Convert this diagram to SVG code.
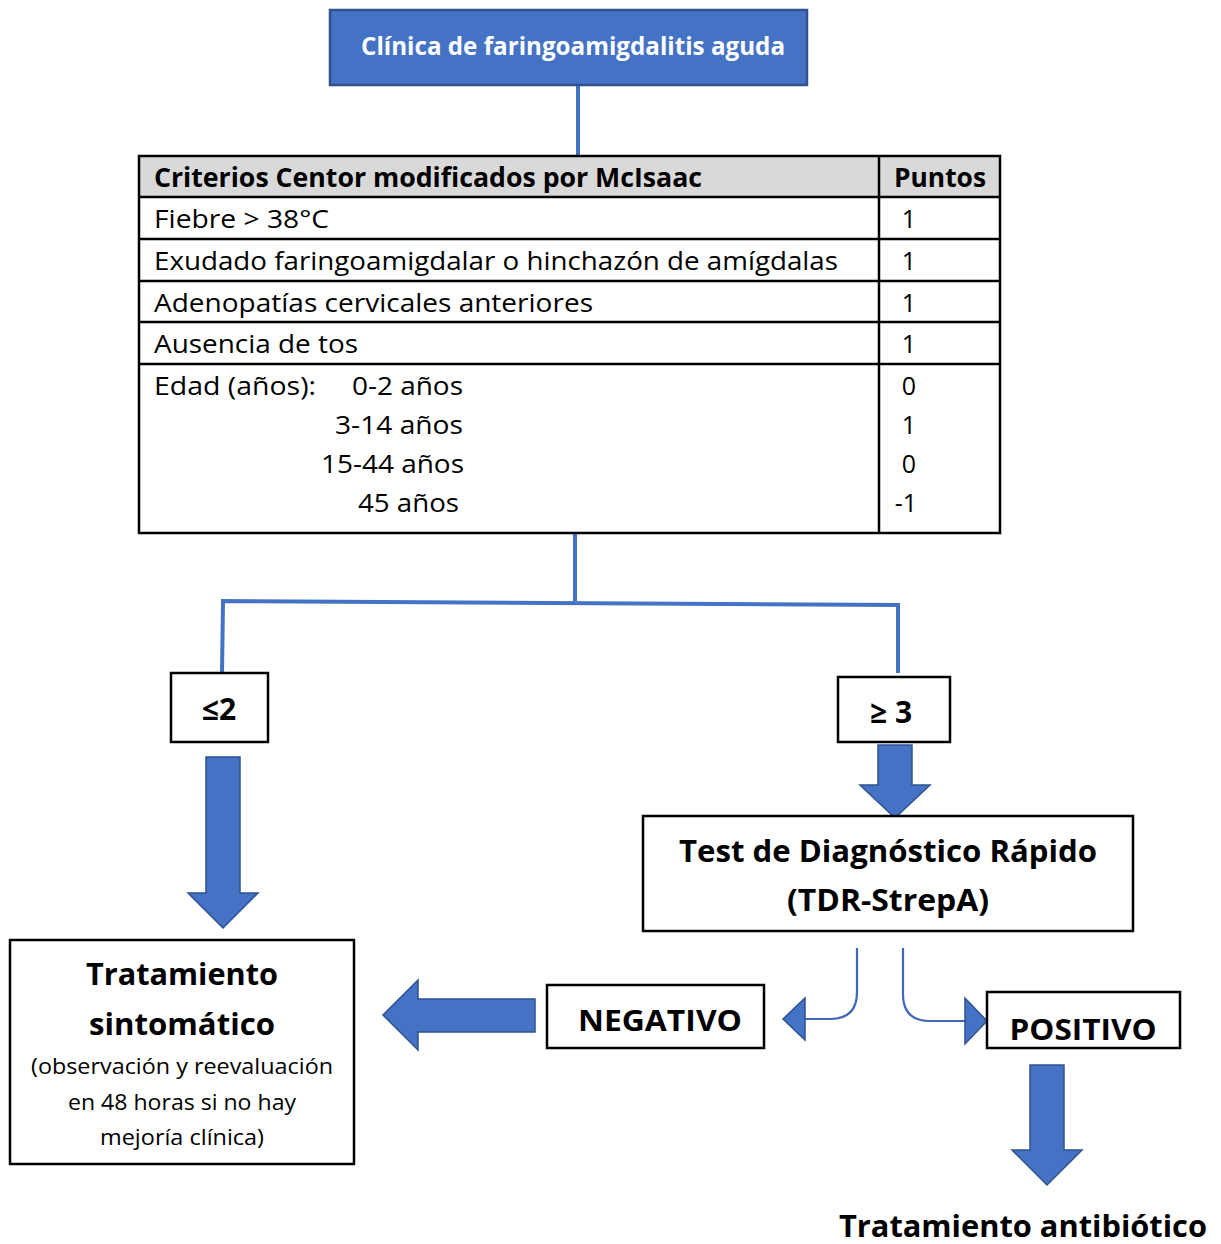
<svg xmlns="http://www.w3.org/2000/svg" width="1221" height="1244" viewBox="0 0 1221 1244">
<style>
text{font-family:"Open Sans","Liberation Sans",sans-serif;fill:#000}
.b{font-weight:bold}
.box{fill:#fff;stroke:#000;stroke-width:2.5}
.cell{fill:none;stroke:#000;stroke-width:2.5}
.link{fill:none;stroke:#4472C4;stroke-width:4}
.thin{fill:none;stroke:#4068B8;stroke-width:2.2}
.big{fill:#4472C4;stroke:#2F528F;stroke-width:1.5}
.row{font-size:25px}
.hdr{font-size:26px;font-weight:bold}
</style>
<rect width="1221" height="1244" fill="#fff"/>
<g id="connectors">
<line class="link" x1="578" y1="85" x2="578" y2="156"/>
<polyline class="link" points="575,534 575,601"/>
<polyline class="link" points="222,673 223,601 898,605 898,673"/>
<polygon class="big" points="206,757 240,757 240,893 258,893 223,928 188,893 206,893"/>
<polygon class="big" points="878,745 912,745 912,785 930,785 895,818 860,785 878,785"/>
<polygon class="big" points="535,999 535,1032 418,1032 418,1050 383,1015 418,980 418,999"/>
<polygon class="big" points="1030,1065 1064,1065 1064,1150 1082,1150 1047,1185 1012,1150 1030,1150"/>
<path class="thin" d="M857,948 V992 Q857,1019 830,1019 H805"/>
<polygon class="big" points="783,1019 805,998 805,1040"/>
<path class="thin" d="M903,948 V994 Q903,1021 930,1021 H965"/>
<polygon class="big" points="987,1021 965,998 965,1044"/>
</g>
<g id="n-clinica">
<rect x="330" y="10" width="477" height="75" fill="#4472C4" stroke="#2F528F" stroke-width="2.5"/>
<text x="573" y="55" text-anchor="middle" font-size="25" font-weight="bold" style="fill:#fff" textLength="424" lengthAdjust="spacingAndGlyphs">Clínica de faringoamigdalitis aguda</text>
</g>
<g id="n-tabla">
<rect x="139" y="156" width="861" height="41" fill="#D9D9D9"/>
<rect class="cell" x="139" y="156" width="861" height="377"/>
<line class="cell" x1="879" y1="156" x2="879" y2="533"/>
<line class="cell" x1="139" y1="197" x2="1000" y2="197"/>
<line class="cell" x1="139" y1="239" x2="1000" y2="239"/>
<line class="cell" x1="139" y1="281" x2="1000" y2="281"/>
<line class="cell" x1="139" y1="322" x2="1000" y2="322"/>
<line class="cell" x1="139" y1="364" x2="1000" y2="364"/>
<text class="hdr" x="154" y="187" textLength="548" lengthAdjust="spacingAndGlyphs">Criterios Centor modificados por McIsaac</text>
<text class="hdr" x="894" y="187" textLength="92" lengthAdjust="spacingAndGlyphs">Puntos</text>
<text class="row" x="154" y="228" textLength="175" lengthAdjust="spacingAndGlyphs">Fiebre &gt; 38°C</text>
<text class="row" x="154" y="270" textLength="684" lengthAdjust="spacingAndGlyphs">Exudado faringoamigdalar o hinchazón de amígdalas</text>
<text class="row" x="154" y="312" textLength="439" lengthAdjust="spacingAndGlyphs">Adenopatías cervicales anteriores</text>
<text class="row" x="154" y="353" textLength="204" lengthAdjust="spacingAndGlyphs">Ausencia de tos</text>
<text class="row" x="154" y="395" textLength="162" lengthAdjust="spacingAndGlyphs">Edad (años):</text>
<text class="row" x="352" y="395" textLength="111" lengthAdjust="spacingAndGlyphs">0-2 años</text>
<text class="row" x="335" y="434" textLength="128" lengthAdjust="spacingAndGlyphs">3-14 años</text>
<text class="row" x="321" y="473" textLength="143" lengthAdjust="spacingAndGlyphs">15-44 años</text>
<text class="row" x="358" y="512" textLength="101" lengthAdjust="spacingAndGlyphs">45 años</text>
<g class="row" text-anchor="middle">
<text x="909" y="228">1</text>
<text x="909" y="270">1</text>
<text x="909" y="312">1</text>
<text x="909" y="353">1</text>
<text x="909" y="395">0</text>
<text x="909" y="434">1</text>
<text x="909" y="473">0</text>
<text x="906" y="512">-1</text>
</g>
</g>
<g id="n-le2">
<rect class="box" x="171" y="673" width="97" height="69"/>
<text class="b" x="219" y="720" text-anchor="middle" font-size="30">≤2</text>
</g>
<g id="n-ge3">
<rect class="box" x="838" y="677" width="112" height="65"/>
<text class="b" x="891" y="723" text-anchor="middle" font-size="30">≥ 3</text>
</g>
<g id="n-tdr">
<rect class="box" x="643" y="816" width="490" height="115"/>
<text class="b" x="888" y="862" text-anchor="middle" font-size="30" textLength="418" lengthAdjust="spacingAndGlyphs">Test de Diagnóstico Rápido</text>
<text class="b" x="888" y="911" text-anchor="middle" font-size="30" textLength="202" lengthAdjust="spacingAndGlyphs">(TDR-StrepA)</text>
</g>
<g id="n-sintomatico">
<rect class="box" x="10" y="940" width="344" height="224"/>
<text class="b" x="182" y="985" text-anchor="middle" font-size="30" textLength="192" lengthAdjust="spacingAndGlyphs">Tratamiento</text>
<text class="b" x="182" y="1035" text-anchor="middle" font-size="30" textLength="186" lengthAdjust="spacingAndGlyphs">sintomático</text>
<text x="182" y="1074" text-anchor="middle" font-size="22" textLength="302" lengthAdjust="spacingAndGlyphs">(observación y reevaluación</text>
<text x="182" y="1110" text-anchor="middle" font-size="22" textLength="228" lengthAdjust="spacingAndGlyphs">en 48 horas si no hay</text>
<text x="182" y="1145" text-anchor="middle" font-size="22" textLength="164" lengthAdjust="spacingAndGlyphs">mejoría clínica)</text>
</g>
<g id="n-negativo">
<rect class="box" x="547" y="985" width="217" height="63"/>
<text class="b" x="660" y="1031" text-anchor="middle" font-size="29" textLength="164" lengthAdjust="spacingAndGlyphs">NEGATIVO</text>
</g>
<g id="n-positivo">
<rect class="box" x="987" y="992" width="193" height="56"/>
<text class="b" x="1083" y="1040" text-anchor="middle" font-size="29" textLength="147" lengthAdjust="spacingAndGlyphs">POSITIVO</text>
</g>
<g id="n-antibiotico">
<text class="b" x="839" y="1237" font-size="30" textLength="368" lengthAdjust="spacingAndGlyphs">Tratamiento antibiótico</text>
</g>
</svg>
